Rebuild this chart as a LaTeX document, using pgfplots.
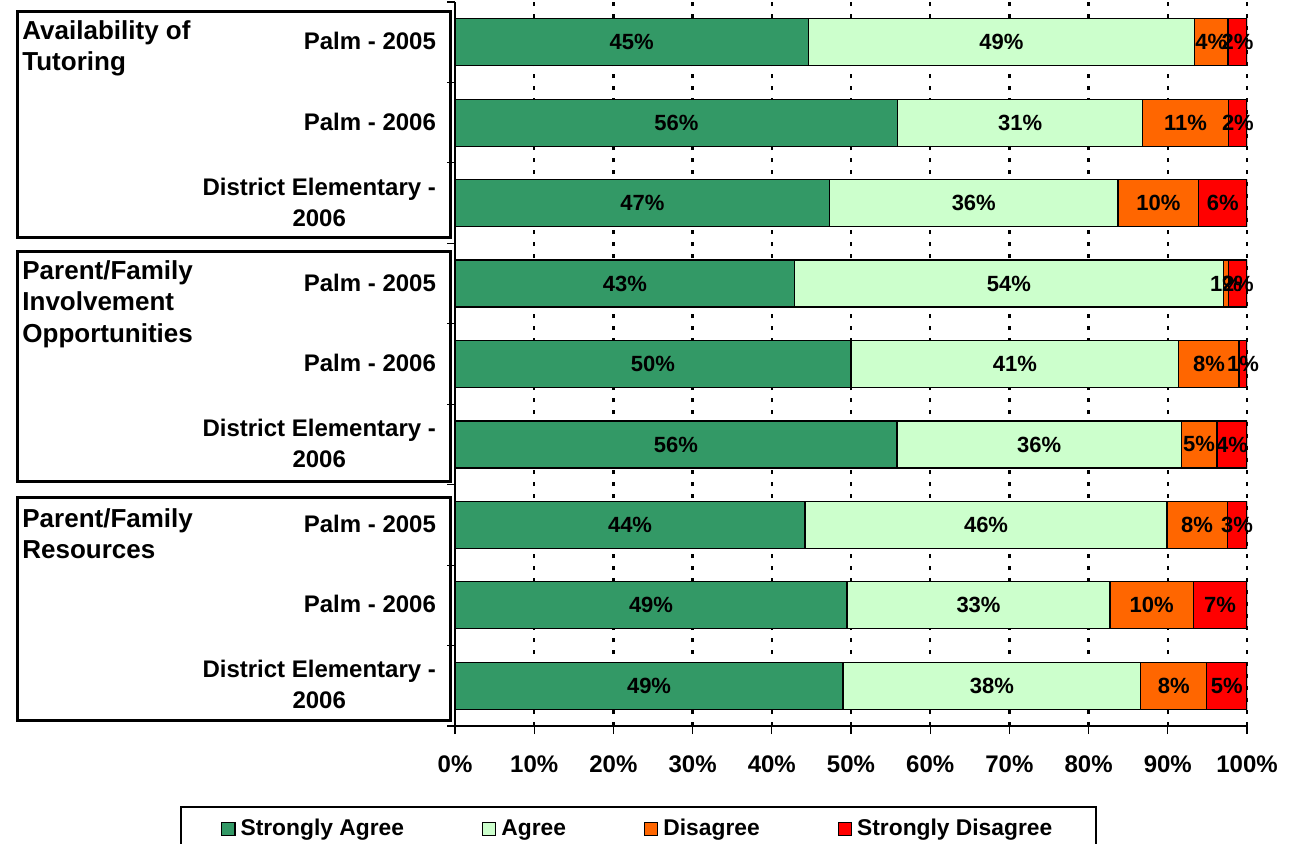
\documentclass[border=0pt]{standalone}
\usepackage{fontspec}
\setmainfont{Liberation Sans}
\usepackage{pgfplots}
\pgfplotsset{compat=1.18}
\usepackage{pgfplotstable}
\definecolor{csa}{RGB}{51,153,102}
\definecolor{cag}{RGB}{204,255,204}
\definecolor{cdi}{RGB}{255,102,0}
\definecolor{csd}{RGB}{255,0,0}

\pgfplotstableread{
y sa a d sd msa ma md msd lsa la ld lsd
9 44.6 48.8 4.2 2.4 22.3 69.0 95.5 98.8 45 49 4 2
8 55.9 30.9 10.9 2.3 27.95 71.35 92.25 98.85 56 31 11 2
7 47.3 36.4 10.2 6.1 23.65 65.5 88.8 96.95 47 36 10 6
6 42.9 54.1 0.7 2.3 21.45 69.95 97.35 98.85 43 54 1 2
5 50.0 41.4 7.6 1.0 25.0 70.7 95.2 99.5 50 41 8 1
4 55.8 35.9 4.5 3.8 27.9 73.75 93.95 98.1 56 36 5 4
3 44.2 45.7 7.6 2.5 22.1 67.05 93.7 98.75 44 46 8 3
2 49.5 33.2 10.5 6.8 24.75 66.1 87.95 96.6 49 33 10 7
1 49.0 37.6 8.3 5.1 24.5 67.8 90.75 97.45 49 38 8 5
}\data

\pgfplotsset{
  sqlegend/.style={legend image code/.code={\draw[##1, line width=0.6pt] (0pt,-3.3pt) rectangle (6.6pt,3.3pt);}},
  common/.style={at={(227.5pt,58.5pt)}, anchor=south west,
    scale only axis, width=396pt, height=362pt,
    xmin=0, xmax=100, ymin=0.5, ymax=9.5},
  lab/.style={draw=none, mark=none, nodes near coords={\pgfplotspointmeta\%}, point meta=explicit symbolic,
    every node near coord/.append style={anchor=center, inner sep=0pt, text=black, font=\fontsize{11}{13}\selectfont\bfseries}},
}

\begin{document}
\begin{tikzpicture}
\useasboundingbox (0,0) rectangle (645.5pt,421.5pt);
\begin{axis}[common,
  xbar stacked, bar width=23.5pt,
  axis x line*=bottom, axis y line*=left,
  axis line style={black, line width=0.6pt, -},
  xtick={0,10,...,100},
  xticklabels={0\%,10\%,20\%,30\%,40\%,50\%,60\%,70\%,80\%,90\%,100\%},
  ytick={1,...,9},
  yticklabels={{District Elementary -\\2006},Palm - 2006,Palm - 2005,{District Elementary -\\2006},Palm - 2006,Palm - 2005,{District Elementary -\\2006},Palm - 2006,Palm - 2005},
  minor ytick={0.5,1.5,...,9.5},
  tick align=outside, major tick length=4pt, minor tick length=4pt,
  major y tick style={draw=none},
  minor y tick style={black, line width=0.6pt},
  major x tick style={black, line width=0.6pt},
  xmajorgrids,
  major grid style={black, line width=1.2pt, dash pattern=on 2pt off 4pt},
  xticklabel style={font=\fontsize{12}{14}\selectfont\bfseries, yshift=-7.5pt},
  yticklabel style={font=\fontsize{12}{15.5}\selectfont\bfseries, align=center, xshift=-2pt, yshift=0.5pt},
  legend style={at={(-0.347,-0.1105)}, anchor=north west, draw=black, line width=1pt,
    font=\fontsize{11.4}{13}\selectfont\bfseries, inner xsep=20pt, inner ysep=4pt,
    /tikz/every odd column/.append style={column sep=0.5pt},
    /tikz/every even column/.append style={column sep=37pt}},
  legend columns=4,
]
\addplot[fill=csa, draw=black, line width=0.6pt, sqlegend] table[x=sa, y=y] {\data};
\addplot[fill=cag, draw=black, line width=0.6pt, sqlegend] table[x=a, y=y] {\data};
\addplot[fill=cdi, draw=black, line width=0.6pt, sqlegend] table[x=d, y=y] {\data};
\addplot[fill=csd, draw=black, line width=0.6pt, sqlegend] table[x=sd, y=y] {\data};
\legend{Strongly Agree, Agree, Disagree, Strongly Disagree}
\end{axis}
\begin{axis}[common, hide axis, clip=false]
\addplot[lab] table[x=msa, y=y, meta=lsa] {\data};
\addplot[lab] table[x=ma, y=y, meta=la] {\data};
\addplot[lab] table[x=md, y=y, meta=ld] {\data};
\addplot[lab] table[x=msd, y=y, meta=lsd] {\data};
\end{axis}
\draw[line width=1.5pt] (8.5pt,303pt) rectangle (225pt,415.5pt);
\draw[line width=1.5pt] (8.5pt,181pt) rectangle (225pt,296pt);
\draw[line width=1.5pt] (8.5pt,61.5pt) rectangle (225pt,173pt);
\begin{scope}[every node/.style={anchor=north west, align=left, inner sep=0pt, font=\fontsize{13}{15.8}\selectfont\bfseries}]
\node at (11pt,411.5pt) {Availability of\\Tutoring};
\node at (11pt,291.5pt) {Parent/Family\\Involvement\\Opportunities};
\node at (11pt,167.5pt) {Parent/Family\\Resources};
\end{scope}
\end{tikzpicture}
\end{document}
